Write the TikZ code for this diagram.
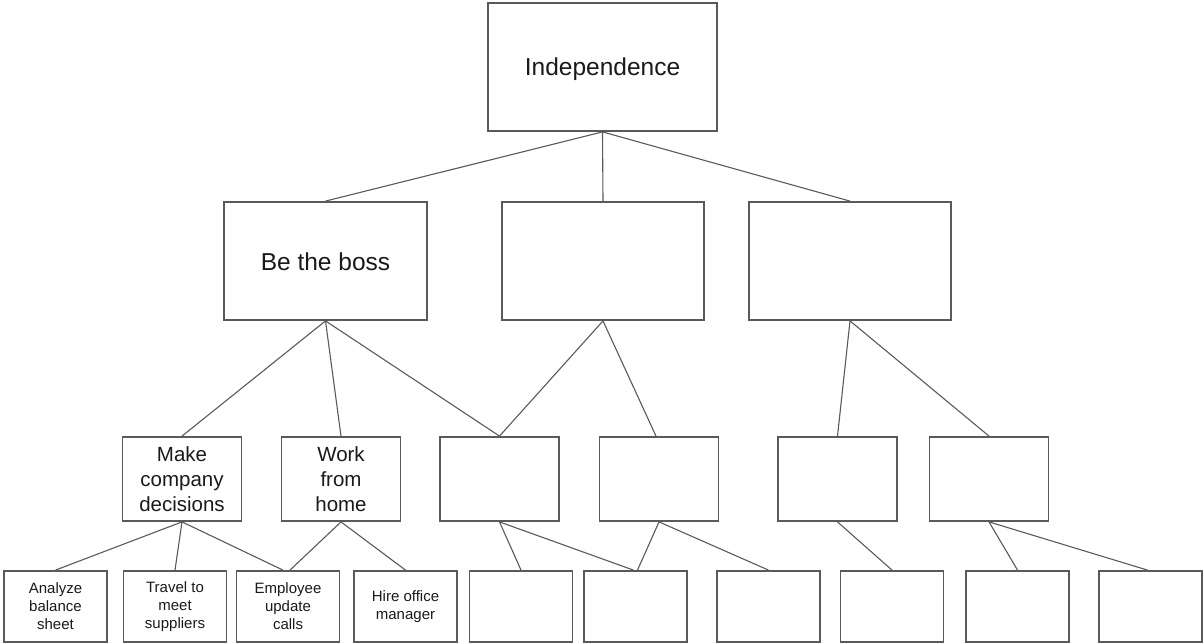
\documentclass[tikz,border=0pt]{standalone}
\usepackage{fontspec}
\setmainfont{Liberation Sans}
\definecolor{linegray}{HTML}{5A5A5A}
\definecolor{txt}{HTML}{1A1A1A}
\begin{document}
\begin{tikzpicture}[x=1pt,y=-1pt,
  box/.style={draw=linegray, line width=1.8pt, inner sep=0pt, align=center, text=txt},
  big/.style={box, font=\fontsize{24.5}{29}\selectfont, text height=18pt, text depth=0pt},
  mid/.style={box, font=\fontsize{20.5}{25}\selectfont, minimum width=119pt, minimum height=84pt},
  small/.style={box, font=\fontsize{15}{18}\selectfont, minimum width=103pt, minimum height=71pt},
  link/.style={draw=linegray, line width=1.1pt}]
\useasboundingbox[fill=white] (0,0) rectangle (1204,644);
% level 1
\node[big, minimum width=229pt, minimum height=128pt] (top) at (602.5,67) {Independence};
% level 2
\node[big, minimum width=203pt, minimum height=118pt] (A) at (325.5,261) {Be the boss};
\node[big, minimum width=202pt, minimum height=118pt] (B) at (603,261) {};
\node[big, minimum width=202pt, minimum height=118pt] (C) at (850,261) {};
% level 3
\node[mid] (D) at (182,479) {Make\\company\\decisions};
\node[mid] (E) at (341,479) {Work\\from\\home};
\node[mid] (F) at (499.5,479) {};
\node[mid] (G) at (659,479) {};
\node[mid] (H) at (837.5,479) {};
\node[mid] (I) at (989,479) {};
% level 4
\node[small] (J) at (55.5,606.5) {Analyze\\balance\\sheet};
\node[small] (K) at (175,606.5) {Travel to\\meet\\suppliers};
\node[small] (L) at (288,606.5) {Employee\\update\\calls};
\node[small] (M) at (405.5,606.5) {Hire office\\manager};
\node[small] (N) at (521,606.5) {};
\node[small] (O) at (635.5,606.5) {};
\node[small] (P) at (768.5,606.5) {};
\node[small] (Q) at (892,606.5) {};
\node[small] (R) at (1017.5,606.5) {};
\node[small] (S) at (1150.5,606.5) {};
% connectors
\draw[link] (top.south) -- (A.north);
\draw[link] (top.south) -- (B.north);
\draw[link] (top.south) -- (C.north);
\draw[link] (A.south) -- (D.north);
\draw[link] (A.south) -- (E.north);
\draw[link] (A.south) -- (F.north);
\draw[link] (B.south) -- (F.north);
\draw[link] (B.south) -- ([xshift=-3pt]G.north);
\draw[link] (C.south) -- (H.north);
\draw[link] (C.south) -- (I.north);
\draw[link] (D.south) -- (J.north);
\draw[link] (D.south) -- (K.north);
\draw[link] (D.south) -- ([xshift=-5pt]L.north);
\draw[link] (E.south) -- ([xshift=2pt]L.north);
\draw[link] (E.south) -- (M.north);
\draw[link] (F.south) -- (N.north);
\draw[link] (F.south) -- ([xshift=-2pt]O.north);
\draw[link] (G.south) -- ([xshift=2pt]O.north);
\draw[link] (G.south) -- (P.north);
\draw[link] (H.south) -- (Q.north);
\draw[link] (I.south) -- (R.north);
\draw[link] (I.south) -- ([xshift=-3pt]S.north);
\end{tikzpicture}
\end{document}
